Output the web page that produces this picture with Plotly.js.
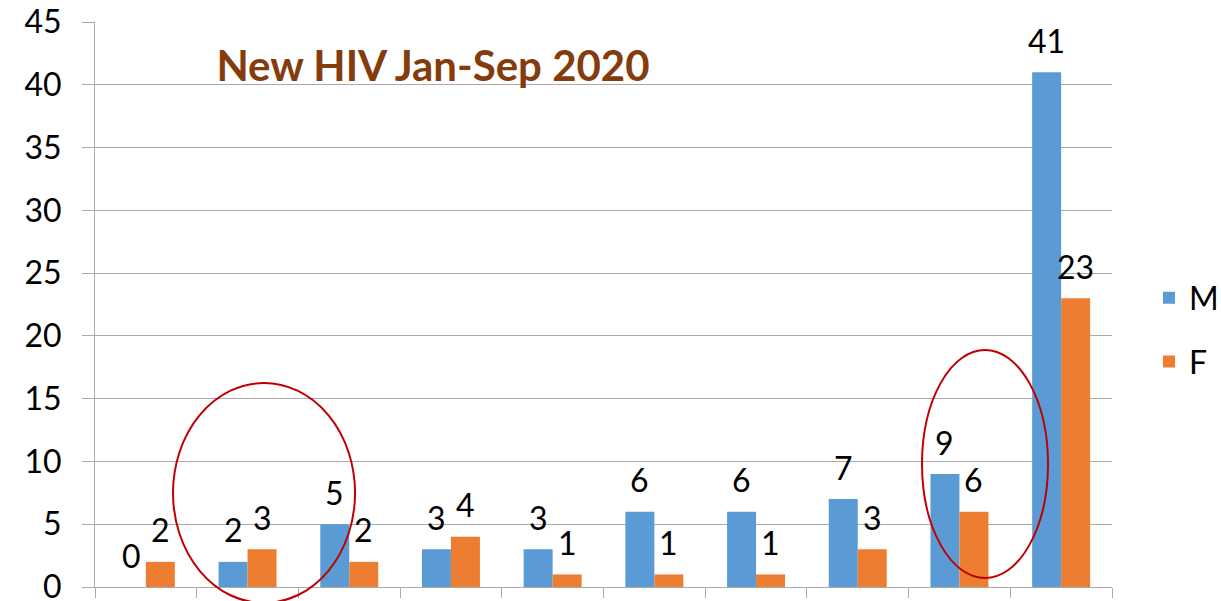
<!DOCTYPE html>
<html>
<head>
<meta charset="utf-8">
<script src="https://cdn.plot.ly/plotly-3.0.1.min.js"></script>
<style>
html,body{margin:0;padding:0;background:#fff;}
#chart{width:1221px;height:601px;}
</style>
</head>
<body>
<div id="chart"></div>
<script>
// Data (x-axis category labels are not visible in the reference)
const categories = ["G1","G2","G3","G4","G5","G6","G7","G8","G9","G10"];
const maleValues = [0, 2, 5, 3, 3, 6, 6, 7, 9, 41];
const femaleValues = [2, 3, 2, 4, 1, 1, 1, 3, 6, 23];
const seriesNames = ["M", "F"];
const yTicks = [0, 5, 10, 15, 20, 25, 30, 35, 40, 45];
const chartTitle = "New HIV Jan-Sep 2020";

const BLUE = "#5B9BD5", ORANGE = "#ED7D31", GRID = "#ABABAB";
const FONT = "Lato, 'Open Sans', sans-serif";

const traces = [
  {type:"bar", name:seriesNames[0], x:categories, y:maleValues,
   marker:{color:BLUE}, legendgroup:"m", hoverinfo:"skip"},
  {type:"bar", name:seriesNames[1], x:categories, y:femaleValues,
   marker:{color:ORANGE}, legendgroup:"f", hoverinfo:"skip"}
];

// value labels above each bar
const annotations = [];
const half = 14.5;
categories.forEach((c,i)=>{
  annotations.push({x:c, y:maleValues[i], xref:"x", yref:"y", text:String(maleValues[i]),
    showarrow:false, xshift:-half, yshift:32, yanchor:"middle",
    font:{family:FONT, size:32, color:"#000"}});
  annotations.push({x:c, y:femaleValues[i], xref:"x", yref:"y", text:String(femaleValues[i]),
    showarrow:false, xshift:half, yshift:32, yanchor:"middle",
    font:{family:FONT, size:32, color:"#000"}});
});

const layout = {
  width:1221, height:601,
  margin:{l:95, r:109, t:22, b:14, autoexpand:false},
  paper_bgcolor:"#fff", plot_bgcolor:"#fff",
  font:{family:FONT, color:"#000"},
  title:{text:"<b>"+chartTitle+"</b>", x:433/1221, xanchor:"center", xref:"container",
         y:1-66/601, yanchor:"middle", yref:"container",
         font:{family:FONT, size:42, color:"#843C0C"}},
  barmode:"group", bargap:0.43, bargroupgap:0,
  xaxis:{type:"category", showticklabels:false, tickson:"boundaries",
         ticks:"outside", ticklen:10, tickcolor:GRID, tickwidth:1,
         showline:true, linecolor:GRID, linewidth:1, showgrid:false, fixedrange:true},
  yaxis:{range:[0,45], tickvals:yTicks, ticks:"outside", ticklen:12, tickcolor:GRID,
         showline:true, linecolor:GRID, linewidth:1, gridcolor:GRID, gridwidth:1,
         zeroline:false, ticklabelstandoff:14, ticklabeloverflow:"allow",
         tickfont:{family:FONT, size:32, color:"#000"}, fixedrange:true},
  showlegend:true,
  legend:{xref:"container", x:1149/1221, xanchor:"left", y:1-330/601, yref:"container",
          yanchor:"middle", tracegroupgap:19,
          font:{family:FONT, size:32, color:"#000"}, bgcolor:"rgba(0,0,0,0)"},
  annotations:annotations,
  shapes:[
    {type:"circle", xref:"paper", yref:"paper", x0:0.0767, x1:0.2557, y0:-0.0283, y1:0.3611,
     line:{color:"#C00000", width:2}, layer:"above"},
    {type:"circle", xref:"paper", yref:"paper", x0:0.8132, x1:0.9371, y0:0.0159, y1:0.4195,
     line:{color:"#C00000", width:2}, layer:"above"}
  ]
};

Plotly.newPlot("chart", traces, layout, {displayModeBar:false, staticPlot:true});
</script>
</body>
</html>
